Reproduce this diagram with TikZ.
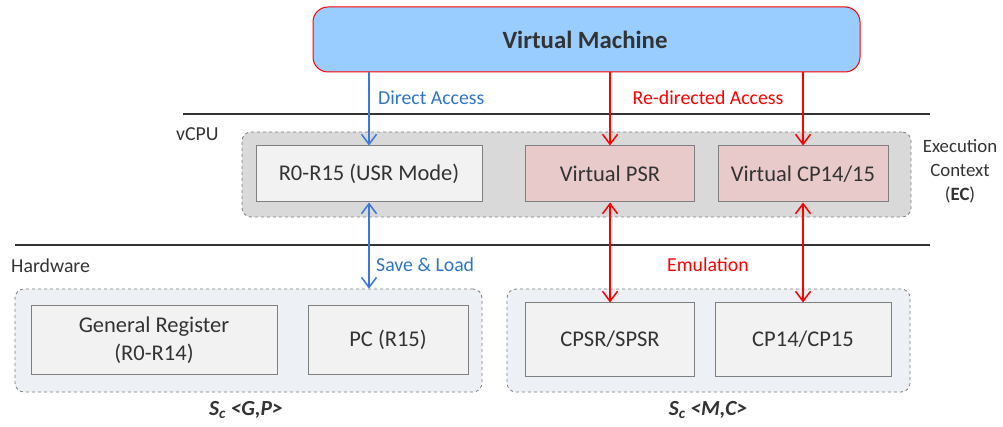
\documentclass[tikz,border=0pt]{standalone}
\usepackage{fontspec}
\setmainfont{Carlito}
\usetikzlibrary{arrows.meta}
\definecolor{vmfill}{HTML}{99CCFF}
\definecolor{txt}{HTML}{333333}
\definecolor{ecfill}{HTML}{D9D9D9}
\definecolor{boxfill}{HTML}{F2F2F2}
\definecolor{boxline}{HTML}{7F7F7F}
\definecolor{pinkfill}{HTML}{E8CACA}
\definecolor{hwfill}{HTML}{EDF0F4}
\definecolor{blueline}{HTML}{3C78D8}
\definecolor{bluetxt}{HTML}{2E75C6}
\definecolor{redc}{HTML}{FF0000}
\begin{document}
\begin{tikzpicture}[x=1pt,y=-1pt,
  reg/.style={draw=boxline,fill=boxfill,line width=1pt,inner sep=0pt,text=txt,align=center,font=\fontsize{22.5}{27}\selectfont},
  pinkreg/.style={reg,fill=pinkfill},
  group/.style={draw=boxline,dashed,line width=0.8pt,rounded corners=9pt,inner sep=0pt},
  lbl/.style={font=\fontsize{19.8}{23}\selectfont,text=txt,inner sep=0pt},
  barb/.style={line width=1.5pt,{Straight Barb[length=10pt,width=15pt]}-{Straight Barb[length=10pt,width=15pt]}},
  onebarb/.style={line width=1.5pt,-{Straight Barb[length=10pt,width=15pt]}}
]
\useasboundingbox (0,0) rectangle (1003,427);
% VM
\node[draw=redc,fill=vmfill,line width=1pt,rounded corners=15pt,minimum width=547pt,minimum height=65pt,inner sep=0pt] (vm) at (586.5,39.5) {};
\node[font=\fontsize{24.8}{28}\selectfont\bfseries,text=txt] (vmt) at (585,40) {Virtual Machine};
% separator lines
\coordinate (l1a) at (183,114); \coordinate (l1b) at (930,114);
\coordinate (l2a) at (15,245); \coordinate (l2b) at (930,245);
\draw[line width=1.2pt,txt] (l1a) -- (l1b);
\draw[line width=1.2pt,txt] (l2a) -- (l2b);
% vCPU
\node[lbl,anchor=west] (vcpu) at (176,134) {vCPU};
\node[group,fill=ecfill,minimum width=669pt,minimum height=85pt] (ec) at (576.5,174.5) {};
\node[reg,minimum width=226pt,minimum height=56pt] (r0) at (369,174) {R0-R15 (USR Mode)};
\node[pinkreg,minimum width=169pt,minimum height=56pt] (vpsr) at (610,174) {Virtual PSR};
\node[pinkreg,minimum width=170pt,minimum height=56pt] (vcp) at (803,174) {Virtual CP14/15};
\node[lbl,align=center,font=\fontsize{18.8}{24}\selectfont] (ect) at (960,171) {Execution\\Context\\(\textbf{EC})};
% Hardware
\node[lbl,anchor=west] (hw) at (11,266) {Hardware};
\node[group,fill=hwfill,minimum width=467pt,minimum height=103pt] (hwl) at (248.5,340.5) {};
\node[group,fill=hwfill,minimum width=403pt,minimum height=103pt] (hwr) at (708.5,340.5) {};
\node[reg,minimum width=246pt,minimum height=68pt,font=\fontsize{22.5}{28}\selectfont] (gr) at (154,340) {General Register\\(R0-R14)};
\node[reg,minimum width=160pt,minimum height=68pt] (pc) at (388,340) {PC (R15)};
\node[reg,minimum width=169pt,minimum height=73pt] (cpsr) at (610,339.5) {CPSR/SPSR};
\node[reg,minimum width=176pt,minimum height=73pt] (cp) at (803,339.5) {CP14/CP15};
\node[font=\fontsize{21.5}{25}\selectfont\bfseries\itshape,text=txt] (scgp) at (246,410) {S\textsubscript{c} <G,P>};
\node[font=\fontsize{21.5}{25}\selectfont\bfseries\itshape,text=txt] (scmc) at (708,410) {S\textsubscript{c} <M,C>};
% arrows
\draw[onebarb,blueline] (vm.south -| r0.north) -- (r0.north);
\draw[onebarb,redc] (vm.south -| vpsr.north) -- (vpsr.north);
\draw[onebarb,redc] (vm.south -| vcp.north) -- (vcp.north);
\draw[barb,blueline] (r0.south) -- (r0.south |- hwl.north);
\draw[barb,redc] (vpsr.south) -- (cpsr.north);
\draw[barb,redc] (vcp.south) -- (cp.north);
% labels
\node[lbl,text=bluetxt,anchor=west] (da) at (378,98) {Direct Access};
\node[lbl,text=redc] (ra) at (708,98) {Re-directed Access};
\node[lbl,text=bluetxt,anchor=west] (sl) at (376,265) {Save \& Load};
\node[lbl,text=redc] (em) at (708,265) {Emulation};
\end{tikzpicture}
\end{document}
